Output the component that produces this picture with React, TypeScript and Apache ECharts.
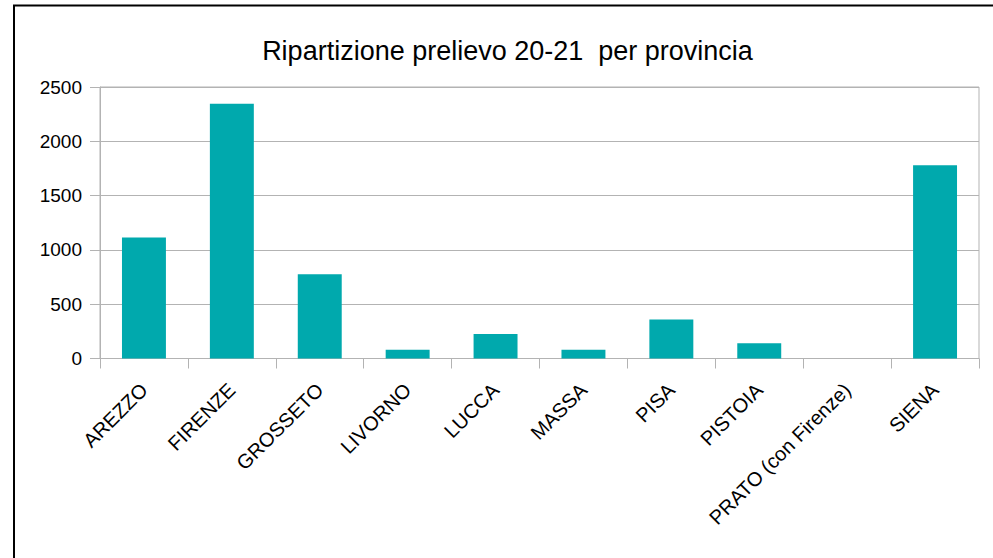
import React, { useEffect, useRef } from "react";
import * as echarts from "echarts";

const titleText = "Ripartizione prelievo 20-21  per provincia";
const categories = [
  "AREZZO",
  "FIRENZE",
  "GROSSETO",
  "LIVORNO",
  "LUCCA",
  "MASSA",
  "PISA",
  "PISTOIA",
  "PRATO (con Firenze)",
  "SIENA",
];
const values = [1115, 2345, 775, 80, 225, 80, 360, 140, 0, 1780];
const yMin = 0;
const yMax = 2500;
const yInterval = 500;

const FONT = "'Liberation Sans', Arial, sans-serif";

export default function App() {
  const ref = useRef<HTMLDivElement>(null);
  useEffect(() => {
    if (!ref.current) return;
    const chart = echarts.init(ref.current, undefined, { renderer: "svg" });
    chart.setOption({
      animation: false,
      backgroundColor: "#ffffff",
      textStyle: { fontFamily: FONT },
      graphic: [
        {
          type: "rect",
          shape: { x: 14, y: 5.5, width: 1200, height: 1000 },
          style: { fill: "none", stroke: "#000000", lineWidth: 2 },
          silent: true,
        },
        {
          type: "text",
          x: 507.5,
          y: 50.5,
          style: {
            text: titleText,
            fontFamily: FONT,
            fontSize: 27,
            fill: "#000000",
            align: "center",
            verticalAlign: "middle",
          },
        },
      ],
      grid: {
        left: 100,
        right: 14,
        top: 87,
        bottom: 199.5,
        show: true,
        borderColor: "#b3b3b3",
        borderWidth: 1,
        containLabel: false,
      },
      xAxis: {
        type: "category",
        data: categories,
        boundaryGap: true,
        axisLine: { show: true, lineStyle: { color: "#b3b3b3", width: 1 } },
        axisTick: {
          show: true,
          alignWithLabel: false,
          length: 10,
          lineStyle: { color: "#b3b3b3", width: 1 },
        },
        axisLabel: {
          interval: 0,
          rotate: 45,
          margin: 28,
          fontSize: 20,
          fontFamily: FONT,
          color: "#000000",
        },
        splitLine: { show: false },
      },
      yAxis: {
        type: "value",
        min: yMin,
        max: yMax,
        interval: yInterval,
        axisLine: { show: true, lineStyle: { color: "#b3b3b3", width: 1 } },
        axisTick: {
          show: true,
          length: 10,
          lineStyle: { color: "#b3b3b3", width: 1 },
        },
        axisLabel: {
          margin: 18,
          fontSize: 19,
          fontFamily: FONT,
          color: "#000000",
          formatter: (v: number) => String(v),
        },
        splitLine: { show: true, lineStyle: { color: "#b3b3b3", width: 1 } },
      },
      series: [
        {
          type: "bar",
          data: values,
          barWidth: "50%",
          itemStyle: { color: "#00a9ad" },
        },
      ],
    });
    return () => chart.dispose();
  }, []);
  return (
    <div
      ref={ref}
      style={{ position: "fixed", left: 0, top: 0, width: 993, height: 558 }}
    />
  );
}
